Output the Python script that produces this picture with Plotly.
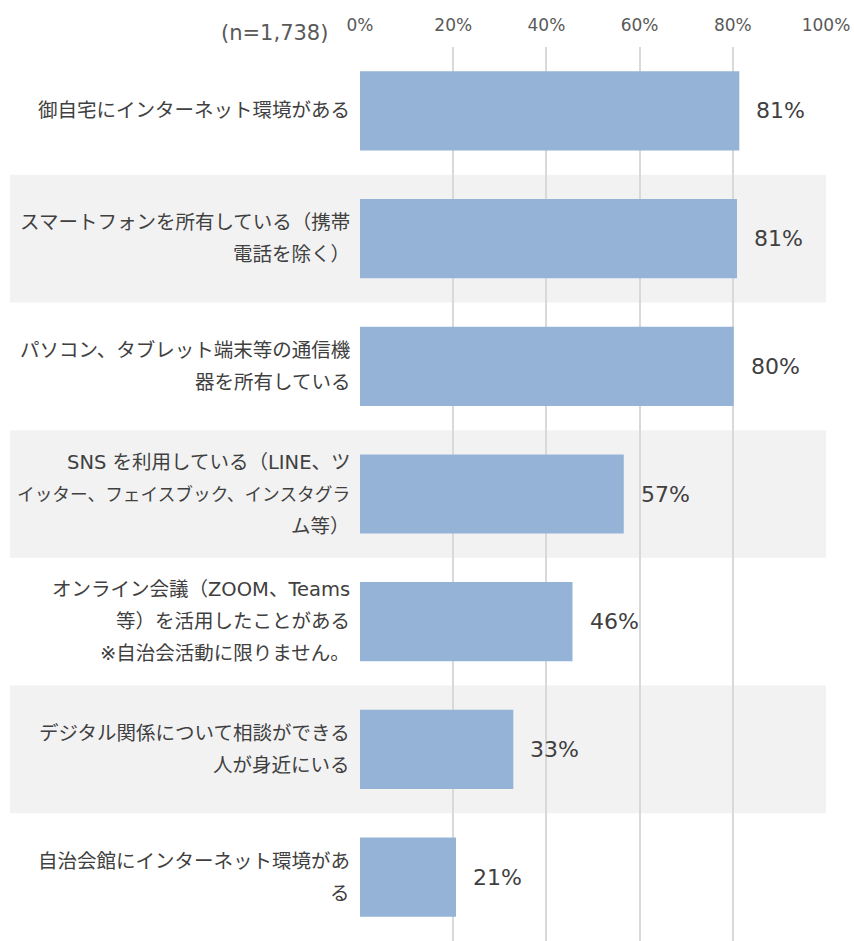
import plotly.graph_objects as go

categories = [
    ["御自宅にインターネット環境がある"],
    ["スマートフォンを所有している（携帯", "電話を除く）"],
    ["パソコン、タブレット端末等の通信機", "器を所有している"],
    ["SNS を利用している（LINE、ツ", "イッター、フェイスブック、インスタグラ", "ム等）"],
    ["オンライン会議（ZOOM、Teams", "等）を活用したことがある", "※自治会活動に限りません。"],
    ["デジタル関係について相談ができる", "人が身近にいる"],
    ["自治会館にインターネット環境があ", "る"],
]
values = [81.4, 80.9, 80.2, 56.6, 45.6, 32.9, 20.6]
tick_vals = [0, 20, 40, 60, 80, 100]
tick_text = ["0%", "20%", "40%", "60%", "80%", "100%"]
sample_note = "(n=1,738)"

BAR = "#95B3D7"
TXT = "#404040"
LAT = "DejaVu Sans, Noto Sans CJK JP"
CJK = "DejaVu Sans, Noto Sans CJK JP"

pos = list(range(len(values)))

fig = go.Figure()
fig.add_trace(go.Bar(
    x=values, y=pos, orientation="h",
    marker=dict(color=BAR, line=dict(width=0)),
    width=0.62, hoverinfo="skip",
))

shapes = []
for i in pos:
    if i % 2 == 1:
        shapes.append(dict(type="rect", xref="paper", yref="y",
                           x0=-0.751, x1=1.0, y0=i - 0.5, y1=i + 0.5,
                           fillcolor="#F2F2F2", line=dict(width=0), layer="below"))

annotations = []
LINE_H = 32
MAX_W = 336
for i, lines in enumerate(categories):
    n = len(lines)
    for j, line in enumerate(lines):
        off = ((n - 1) / 2 - j) * LINE_H
        full_width = not any(c.isascii() for c in line)
        size = 19.5
        if full_width and len(line) * size > MAX_W:
            size = MAX_W / len(line)
        annotations.append(dict(
            x=0, xref="paper", y=i, yref="y", text=line, showarrow=False,
            xanchor="right", yanchor="middle", xshift=-8, yshift=off,
            font=dict(family=CJK, size=size, color=TXT)))
for i, v in enumerate(values):
    annotations.append(dict(
        x=v, xref="x", y=i, yref="y", text=f"{v:.0f}%", showarrow=False,
        xanchor="left", yanchor="middle", xshift=15,
        font=dict(family=LAT, size=22, color=TXT)))
annotations.append(dict(
    x=0, xref="paper", y=1, yref="paper", text=sample_note, showarrow=False,
    xanchor="right", yanchor="bottom", xshift=-30, yshift=0,
    font=dict(family=LAT, size=21, color="#595959")))

fig.update_layout(
    width=854, height=941,
    margin=dict(l=360, r=28, t=47, b=0, pad=0),
    paper_bgcolor="white", plot_bgcolor="rgba(0,0,0,0)",
    showlegend=False, bargap=0.38,
    shapes=shapes, annotations=annotations,
    xaxis=dict(range=[0, 100], side="top", tickvals=tick_vals, ticktext=tick_text,
               showgrid=True, gridcolor="#D9D9D9", gridwidth=1.5,
               zeroline=False, showline=False, ticks="", ticklen=0,
               ticklabelstandoff=12,
               tickfont=dict(family=LAT, size=17, color="#595959"), fixedrange=True),
    yaxis=dict(range=[6.5, -0.5], showticklabels=False, showgrid=False,
               zeroline=False, showline=False, ticks="", fixedrange=True),
)

fig.write_html("out.html", config={"displayModeBar": False},
               post_script="document.body.style.margin='0';")
